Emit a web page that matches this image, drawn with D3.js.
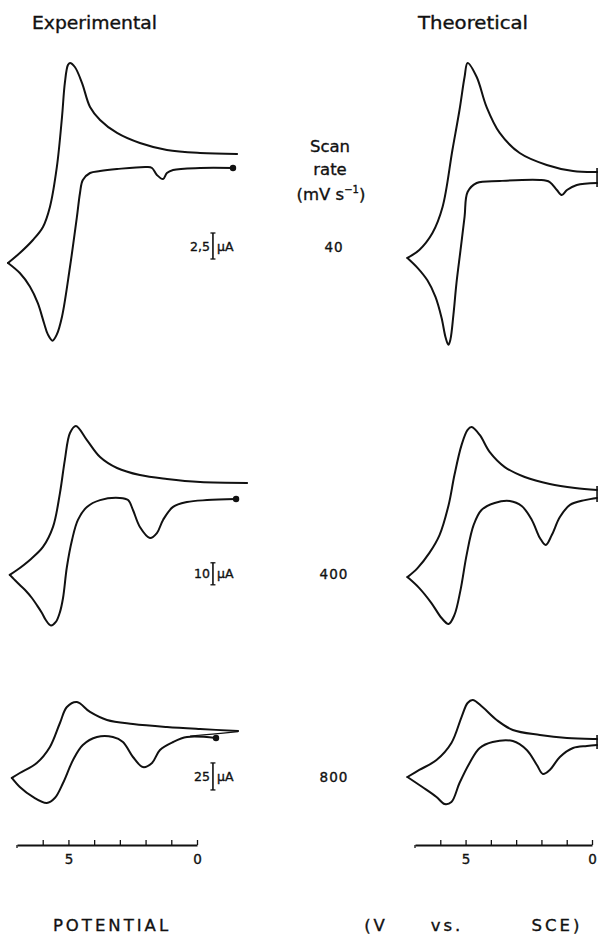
<!DOCTYPE html>
<html>
<head>
<meta charset="utf-8">
<script src="https://cdn.jsdelivr.net/npm/d3@7"></script>
<style>
  html, body { margin: 0; padding: 0; background: #fff; }
  svg { display: block; }
  text { font-family: "DejaVu Sans", "Liberation Sans", sans-serif; fill: #111; stroke: #111; stroke-width: 0.35px; }
</style>
</head>
<body>
<svg id="chart" width="598" height="945"></svg>
<script>
// Cyclic voltammograms: potential E (axis units, increasing to the left) vs current i (µA).
// Each trace = forward (cathodic) scan from the start point to the switching potential,
// then the reverse (anodic) scan back.

// ---- Row 1 : 40 mV/s ----
const expTopFwd = [[-1.40,0],[-0.12,0],[0.93,-0.19],[1.17,-0.48],[1.32,-1.06],[1.56,-0.67],[1.75,0],[1.95,0.1],
  [3.11,-0.1],[3.77,-0.29],[4.16,-0.48],[4.44,-1.15],[4.55,-2.4],[4.67,-4.71],[4.94,-9.52],[5.25,-14.3],
  [5.45,-16.0],[5.62,-16.6],[5.80,-16.0],[5.95,-14.9],[6.19,-13.0],[6.50,-11.4],[6.89,-10.1],[7.35,-9.13]];
const expTopRev = [[7.35,-9.13],[6.89,-8.17],[6.38,-6.92],[5.99,-5.67],[5.72,-3.75],[5.45,0.1],[5.25,4.9],
  [5.14,8.17],[5.02,9.9],[4.94,10.1],[4.75,9.71],[4.47,8.17],[4.16,5.87],[3.77,4.62],[3.11,3.37],
  [2.22,2.40],[1.17,1.73],[-0.12,1.44],[-1.56,1.35]];
const thTopFwd = [[-0.20,-1.44],[0.60,-1.63],[0.99,-2.12],[1.19,-2.6],[1.39,-2.12],[1.67,-1.35],[2.06,-1.15],
  [3.65,-1.25],[4.56,-1.44],[4.92,-2.31],[5.04,-4.71],[5.20,-7.9],[5.36,-11.06],[5.48,-14.1],[5.60,-16.5],
  [5.68,-17.0],[5.79,-16.3],[5.95,-14.4],[6.19,-12.4],[6.51,-10.8],[6.90,-9.6],[7.30,-8.65]];
const thTopRev = [[7.30,-8.65],[6.83,-7.88],[6.31,-6.25],[5.91,-3.75],[5.52,1.73],[5.24,5.58],[5.04,8.75],
  [4.92,10.1],[4.56,8.75],[4.17,5.87],[3.65,3.37],[2.86,1.44],[1.79,0.29],[0.75,-0.29],[-0.20,-0.38]];

// ---- Row 2 : 400 mV/s ----
const expMidFwd = [[-1.52,0],[-0.39,-0.5],[0.39,-1.4],[0.93,-3.6],[1.32,-9.5],[1.56,-15.5],[1.83,-17.7],
  [2.22,-12.7],[2.49,-5.0],[2.68,-0.5],[3.00,0.5],[3.77,-0.5],[4.28,-3.6],[4.63,-9.5],[4.86,-18.6],
  [5.06,-30.9],[5.21,-45.0],[5.33,-51.4],[5.49,-55.9],[5.68,-57.5],[5.88,-55.0],[6.03,-51.8],[6.23,-48.2],
  [6.42,-45.0],[6.65,-41.8],[6.89,-39.1],[7.12,-36.4],[7.28,-34.5]];
const expMidRev = [[7.28,-34.5],[7.00,-32.3],[6.50,-27.7],[5.99,-21.8],[5.60,-12.7],[5.33,2.7],[5.14,17.7],
  [4.94,30.0],[4.71,33.2],[4.28,26.8],[3.77,19.1],[3.11,14.1],[2.22,10.9],[1.17,9.1],[-0.12,7.7],[-1.95,7.3]];
const thMidFwd = [[-0.20,0.5],[0.28,-0.5],[0.87,-2.7],[1.27,-8.2],[1.59,-16.4],[1.83,-20.9],[2.06,-17.7],
  [2.38,-9.5],[2.78,-3.2],[3.25,-0.9],[3.85,-1.8],[4.37,-5.0],[4.68,-11.8],[4.96,-25.5],[5.20,-41.4],
  [5.44,-52.7],[5.67,-56.8],[5.95,-54.1],[6.35,-47.3],[6.83,-40.5],[7.30,-35.5]];
const thMidRev = [[7.30,-35.5],[6.90,-31.4],[6.43,-24.5],[6.03,-16.4],[5.67,-2.7],[5.44,10.9],[5.16,24.5],
  [4.92,31.4],[4.76,32.7],[4.44,29.1],[4.05,21.4],[3.45,14.5],[2.66,10.0],[1.67,6.8],[0.67,5.0],[-0.20,4.1]];

// ---- Row 3 : 800 mV/s ----
const expBotFwd = [[-0.74,0],[0.39,0.9],[0.93,-3.7],[1.44,-11.1],[1.75,-23.1],[2.10,-26.9],[2.49,-17.6],
  [2.88,-3.7],[3.27,0.9],[3.89,0.9],[4.44,-6.5],[4.82,-20.4],[5.21,-41.7],[5.53,-55.6],[5.84,-60.2],
  [6.38,-54.6],[6.89,-45.4],[7.20,-37.0]];
const expBotRev = [[7.20,-37.0],[6.89,-32.4],[6.23,-23.1],[5.72,-8.3],[5.33,13.9],[5.06,28.7],[4.67,33.3],
  [4.16,24.1],[3.50,16.7],[2.49,13.0],[1.17,10.2],[-0.12,8.3],[-1.60,6.5]];
const expBotTail = [[0.27,1.9],[-0.60,3.6],[-1.60,5.9]];
const thBotFwd = [[-0.20,-6.5],[0.20,-7.4],[0.75,-9.3],[1.27,-17.6],[1.67,-29.6],[1.94,-33.3],[2.18,-25.0],
  [2.58,-11.1],[3.13,-2.8],[3.93,-3.7],[4.44,-9.3],[4.84,-23.1],[5.24,-41.7],[5.56,-59.3],[5.83,-61.1],
  [6.15,-54.6],[6.71,-45.4],[7.30,-36.1]];
const thBotRev = [[7.30,-36.1],[6.83,-29.6],[6.15,-20.4],[5.56,-4.6],[5.16,19.4],[4.92,32.4],[4.72,35.2],
  [4.33,28.7],[3.77,16.7],[3.13,7.4],[2.06,2.8],[0.99,0],[-0.04,-0.9],[-0.20,-0.9]];

// Row annotations
const scanRates = ["40", "400", "800"];
const barLabels = ["2,5", "10", "25"];
const barSizes = [2.5, 10, 25];          // µA
const barCentres = [-7.5, -34, -35.6];   // µA level of each scale bar centre
const axisTicks = [0, 1, 2, 3, 4, 5, 6];
const labelledTicks = [5, 0];
const barPotential = -0.62;              // where the scale bars sit on the left potential scale

const svg = d3.select("#chart");

// Potential scales (left = experimental, right = theoretical)
const xL = d3.scaleLinear().domain([0, 7]).range([197, 17]);
const xR = d3.scaleLinear().domain([0, 7]).range([592, 415]);

// Current scales per row (row 1: 2.5 µA ≈ 26 px, row 2: 10 µA ≈ 22 px, row 3: 25 µA ≈ 27 px)
const yRows = [
  d3.scaleLinear().domain([0, 10]).range([168, 64]),
  d3.scaleLinear().domain([0, 10]).range([499, 477]),
  d3.scaleLinear().domain([0, 25]).range([738, 711])
];

const rows = [
  { exp: [expTopFwd, expTopRev], th: [thTopFwd, thTopRev] },
  { exp: [expMidFwd, expMidRev], th: [thMidFwd, thMidRev] },
  { exp: [expBotFwd, expBotRev], th: [thBotFwd, thBotRev] }
];

const ink = "#111";

rows.forEach((row, r) => {
  const y = yRows[r];
  const lineL = d3.line().x(d => xL(d[0])).y(d => y(d[1])).curve(d3.curveCatmullRom.alpha(0.5));
  const lineR = d3.line().x(d => xR(d[0])).y(d => y(d[1])).curve(d3.curveCatmullRom.alpha(0.5));
  const g = svg.append("g").attr("class", "row-" + r);

  row.exp.forEach(seg => g.append("path").attr("d", lineL(seg))
    .attr("fill", "none").attr("stroke", ink).attr("stroke-width", 2)
    .attr("stroke-linejoin", "round").attr("stroke-linecap", "round"));
  row.th.forEach(seg => g.append("path").attr("d", lineR(seg))
    .attr("fill", "none").attr("stroke", ink).attr("stroke-width", 2)
    .attr("stroke-linejoin", "round").attr("stroke-linecap", "round"));

  // starting point of the experimental scan
  const start = row.exp[0][0];
  g.append("circle").attr("cx", xL(start[0])).attr("cy", y(start[1])).attr("r", 3.2).attr("fill", ink);

  if (r === 2) {
    g.append("path").attr("d", lineL(expBotTail)).attr("fill", "none")
      .attr("stroke", ink).attr("stroke-width", 1.1);
  }

  // end marker of the simulated trace
  const thEndTop = row.th[1][row.th[1].length - 1];
  const thEndBot = row.th[0][0];
  const ya = Math.min(y(thEndTop[1]), y(thEndBot[1])) - 4;
  const yb = Math.max(y(thEndTop[1]), y(thEndBot[1])) + 4;
  g.append("line").attr("x1", xR(thEndTop[0])).attr("x2", xR(thEndTop[0]))
    .attr("y1", ya).attr("y2", yb).attr("stroke", ink).attr("stroke-width", 1.6);

  // current scale bar
  const bx = xL(barPotential);
  const b0 = y(barCentres[r] + barSizes[r] / 2), b1 = y(barCentres[r] - barSizes[r] / 2);
  g.append("line").attr("x1", bx).attr("x2", bx).attr("y1", b0).attr("y2", b1)
    .attr("stroke", ink).attr("stroke-width", 1.6);
  [b0, b1].forEach(v => g.append("line").attr("x1", bx - 2.5).attr("x2", bx + 2.5)
    .attr("y1", v).attr("y2", v).attr("stroke", ink).attr("stroke-width", 1.3));
  const by = (b0 + b1) / 2 + 4.5;
  g.append("text").attr("x", bx - 3).attr("y", by).attr("text-anchor", "end")
    .attr("font-size", 12.5).text(barLabels[r]);
  g.append("text").attr("x", bx + 4).attr("y", by).attr("font-size", 12.5).text("µA");

  // scan rate
  g.append("text").attr("x", 334).attr("y", by + 1).attr("text-anchor", "middle")
    .attr("font-size", 13.5).attr("letter-spacing", 1).text(scanRates[r]);
});

// Titles
svg.append("text").attr("x", 32).attr("y", 29).attr("font-size", 17.5)
  .attr("textLength", 125).attr("lengthAdjust", "spacingAndGlyphs").text("Experimental");
svg.append("text").attr("x", 418).attr("y", 29).attr("font-size", 17.5)
  .attr("textLength", 110).attr("lengthAdjust", "spacingAndGlyphs").text("Theoretical");

// Scan-rate header
svg.append("text").attr("x", 330).attr("y", 152).attr("text-anchor", "middle").attr("font-size", 16.5).text("Scan");
svg.append("text").attr("x", 330).attr("y", 175).attr("text-anchor", "middle").attr("font-size", 16.5).text("rate");
const unit = svg.append("text").attr("x", 331).attr("y", 200).attr("text-anchor", "middle").attr("font-size", 16.5);
unit.append("tspan").text("(mV s");
unit.append("tspan").attr("dy", -7).attr("font-size", 10).text("−1");
unit.append("tspan").attr("dy", 7).text(")");

// Potential axes
function drawAxis(scale) {
  const ax = d3.axisBottom(scale).tickValues(axisTicks).tickSize(-5).tickSizeOuter(0).tickPadding(9)
    .tickFormat(d => labelledTicks.includes(d) ? String(d) : "");
  const g = svg.append("g").attr("transform", "translate(0,845)").call(ax);
  g.select(".domain").attr("stroke", ink).attr("stroke-width", 1.8);
  g.selectAll(".tick line").attr("stroke", ink).attr("stroke-width", 1.3);
  g.selectAll(".tick text").attr("font-size", 13.5).attr("fill", ink)
    .attr("font-family", "DejaVu Sans, sans-serif");
  // end cap at the far end of the scale
  g.append("line").attr("x1", scale(7)).attr("x2", scale(7)).attr("y1", 0).attr("y2", 3)
    .attr("stroke", ink).attr("stroke-width", 1.3);
}
drawAxis(xL);
drawAxis(xR);

// Axis title
const foot = [["POTENTIAL", 112], ["(V", 376], ["vs.", 447], ["SCE)", 557]];
foot.forEach(([t, x]) => svg.append("text").attr("x", x).attr("y", 931).attr("text-anchor", "middle")
  .attr("font-size", 16.5).attr("letter-spacing", 3).text(t));
</script>
</body>
</html>
